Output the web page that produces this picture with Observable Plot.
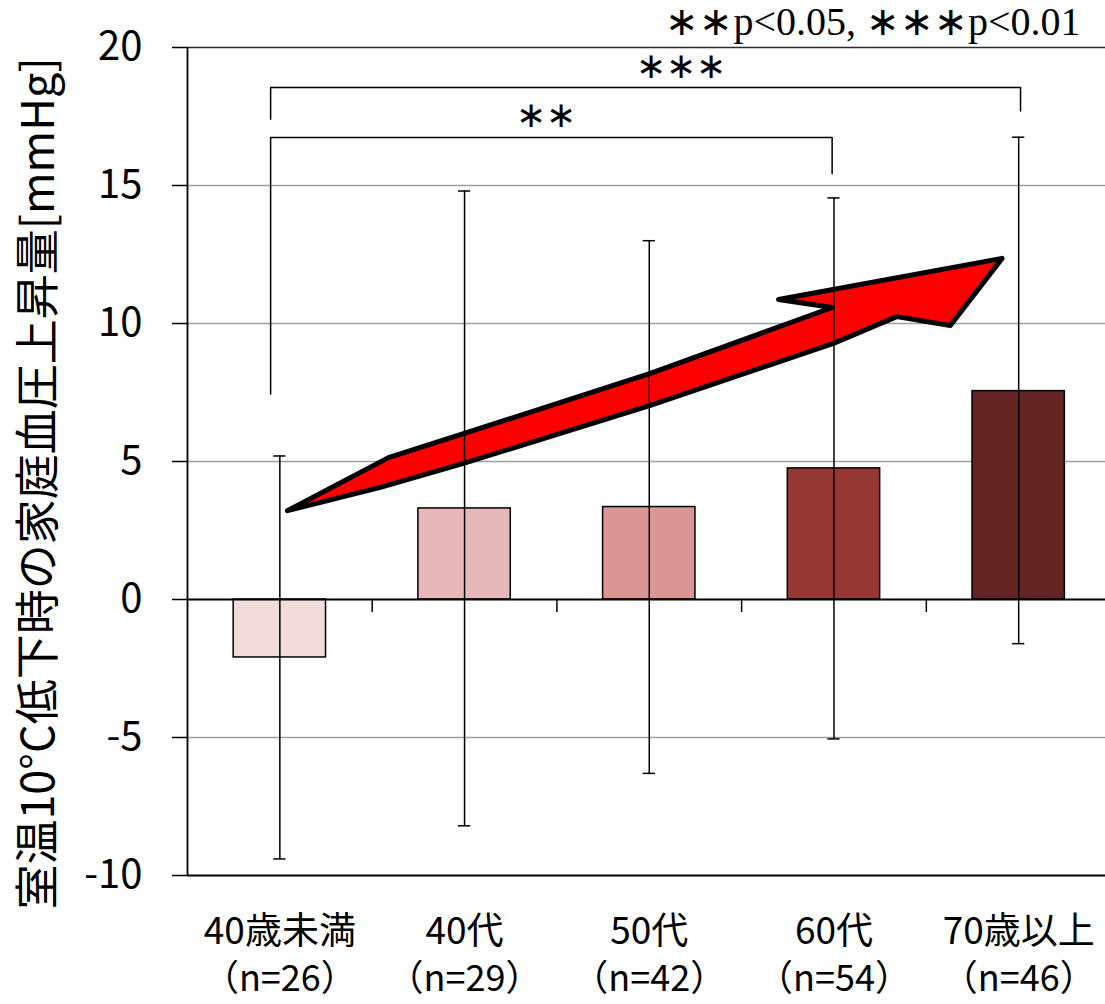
<!DOCTYPE html>
<html><head><meta charset="utf-8">
<script src="https://cdn.jsdelivr.net/npm/d3@7"></script>
<script src="https://cdn.jsdelivr.net/npm/@observablehq/plot@0.6"></script>
<style>body{margin:0;background:#fff}</style>
</head><body><div id="chart"></div>
<script>
const categories = ["40歳未満", "40代", "50代", "60代", "70歳以上"];
const nLabels = ["（n=26）", "（n=29）", "（n=42）", "（n=54）", "（n=46）"];
const means = [-2.1, 3.3, 3.35, 4.75, 7.55];
const lows = [-9.4, -8.2, -6.3, -5.05, -1.6];
const highs = [5.2, 14.8, 13.0, 14.55, 16.75];
const colors = ["#f2dcdb", "#e6b9b8", "#d99694", "#953735", "#632523"];
const yTicks = [-10, -5, 0, 5, 10, 15, 20];
const gridValues = [-5, 5, 10, 15];
const yLabel = "室温10°C低下時の家庭血圧上昇量[mmHg]";
const sigNote = "∗∗p<0.05, ∗∗∗p<0.01";
// arrow polygon (category units, mmHg)
const arrowX = [0.041, 0.588, 0.994, 2.006, 2.99, 2.70, 3.91, 3.63, 3.34, 2.997, 2.006, 0.994, 0.544, 0.041];
const arrowY = [3.22, 5.14, 6.01, 8.19, 10.58, 10.87, 12.36, 9.93, 10.25, 9.28, 7.03, 4.93, 4.06, 3.22];
// significance brackets
const bracketNames = ["***", "**"];
const bracketX = [[-0.05, -0.05, 4.01, 4.01], [-0.05, -0.05, 2.99, 2.99]];
const bracketY = [[17.4, 18.55, 18.55, 17.7], [7.45, 16.74, 16.74, 15.43]];
const starLabels = ["∗∗∗", "∗∗"];
const starX = [2.17, 1.44];
const starY = [19.3, 17.55];

const data = categories.map((c, i) => ({i, c, mean: means[i], low: lows[i], high: highs[i], color: colors[i]}));
const arrow = arrowX.map((x, k) => ({x, y: arrowY[k]}));
const brackets = bracketX.flatMap((xs, b) => xs.map((x, k) => ({b: bracketNames[b], x, y: bracketY[b][k]})));
const stars = starLabels.map((t, k) => ({t, x: starX[k], y: starY[k]}));
const boundaries = categories.slice(1).map((_, k) => k + 0.5);

const chart = Plot.plot({
  width: 1105, height: 1004,
  marginLeft: 187, marginRight: 0, marginTop: 47, marginBottom: 129,
  x: {domain: [-0.5, 4.47], axis: null},
  y: {domain: [-10, 20], axis: null},
  style: {fontFamily: "'Noto Sans CJK JP', 'Noto Sans', sans-serif", background: "#fff", color: "#000"},
  marks: [
    Plot.ruleY(gridValues, {stroke: "#a0a0a0", strokeWidth: 1.5}),
    Plot.ruleY([20], {stroke: "#2a2a2a", strokeWidth: 1.5}),
    Plot.ruleY([-10], {stroke: "#000", strokeWidth: 2.2}),
    Plot.rectY(data, {x1: d => d.i - 0.25, x2: d => d.i + 0.25, y1: 0, y2: "mean", fill: "color", stroke: "#000", strokeWidth: 1.5}),
    Plot.ruleY([0], {stroke: "#000", strokeWidth: 1.8}),
    Plot.ruleX(boundaries, {y1: 0, y2: -0.47, stroke: "#000", strokeWidth: 1.5}),
    Plot.line(arrow, {x: "x", y: "y", fill: "#ff0000", stroke: "#000", strokeWidth: 5, strokeLinejoin: "round", curve: "linear"}),
    Plot.ruleX(data, {x: "i", y1: "low", y2: "high", stroke: "#000", strokeWidth: 1.5}),
    Plot.ruleY(data, {y: "low", x1: d => d.i - 0.033, x2: d => d.i + 0.033, stroke: "#000", strokeWidth: 1.5}),
    Plot.ruleY(data, {y: "high", x1: d => d.i - 0.033, x2: d => d.i + 0.033, stroke: "#000", strokeWidth: 1.5}),
    Plot.line(brackets, {x: "x", y: "y", z: "b", stroke: "#000", strokeWidth: 1.5}),
    Plot.text(stars, {x: "x", y: "y", text: "t", fontFamily: "'Liberation Serif', serif", fontSize: 36, fill: "#000"}),
    Plot.ruleX([-0.5], {y1: -10, y2: 20, stroke: "#000", strokeWidth: 1.8}),
    Plot.axisY(yTicks, {tickSize: 15, tickPadding: 30, fontSize: 40, strokeWidth: 1.5, tickFormat: d => String(d), label: null}),
    Plot.axisX([0, 1, 2, 3, 4], {tickSize: 0, tickPadding: 42, fontSize: 37, tickFormat: i => categories[i], label: null}),
    Plot.axisX([0, 1, 2, 3, 4], {tickSize: 0, tickPadding: 90, fontSize: 36, tickFormat: i => nLabels[i], label: null}),
    Plot.text([yLabel], {frameAnchor: "left", textAnchor: "middle", rotate: -90, dx: -148, dy: 22, fontSize: 45, fill: "#000"}),
    Plot.text([sigNote], {frameAnchor: "top-right", textAnchor: "end", lineAnchor: "middle", dx: -25, dy: -25, fontFamily: "'Liberation Serif', serif", fontSize: 40, fill: "#000"})
  ]
});
document.getElementById("chart").appendChild(chart);
</script></body></html>
